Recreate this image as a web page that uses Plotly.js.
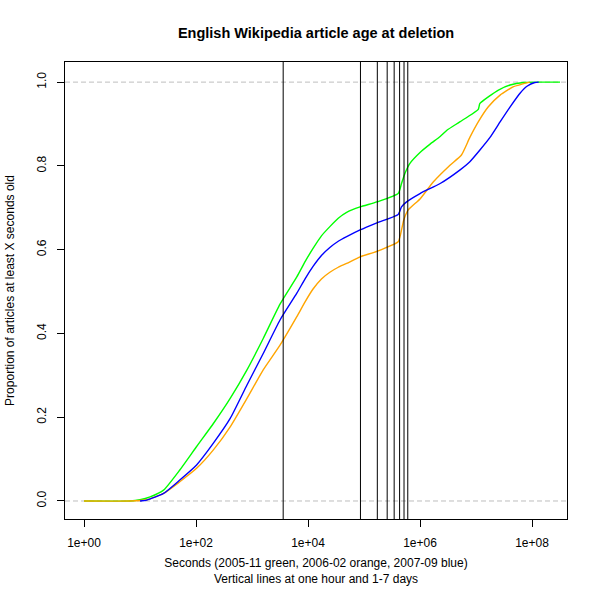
<!DOCTYPE html>
<html>
<head>
<meta charset="utf-8">
<script src="https://cdn.plot.ly/plotly-3.0.1.min.js"></script>
<style>html,body{margin:0;padding:0;background:#fff;}#chart{width:600px;height:600px;}</style>
</head>
<body>
<div id="chart"></div>
<script>
// log10(seconds) and proportion values
const greenLog = [0,0.82,1.0,1.18,1.42,1.71,2.01,2.31,2.61,2.91,3.20,3.50,3.80,3.95,4.09,4.24,4.39,4.54,4.69,4.93,5.23,5.61,5.67,5.73,5.82,6.0,6.18,6.36,6.48,6.71,7.04,7.07,7.40,7.61,7.85,8.1,8.5];
const greenVal = [0,0,0.003,0.010,0.026,0.074,0.130,0.185,0.245,0.313,0.388,0.470,0.535,0.572,0.603,0.633,0.655,0.675,0.689,0.702,0.714,0.734,0.758,0.782,0.806,0.832,0.852,0.870,0.885,0.905,0.935,0.949,0.981,0.993,0.999,1.0,1.0];

const orangeLog = [0,0.82,1.12,1.42,1.71,2.01,2.31,2.61,2.91,3.20,3.50,3.80,3.95,4.09,4.24,4.39,4.54,4.69,4.93,5.23,5.61,5.65,5.71,5.79,6.0,6.24,6.54,6.74,6.89,7.04,7.22,7.43,7.67,7.96];
const orangeVal = [0,0,0.003,0.018,0.046,0.078,0.122,0.177,0.245,0.313,0.372,0.440,0.476,0.506,0.530,0.546,0.558,0.567,0.583,0.596,0.619,0.635,0.671,0.695,0.721,0.762,0.802,0.826,0.868,0.905,0.941,0.969,0.989,1.0];

const blueLog = [1.0,1.12,1.42,1.71,2.01,2.31,2.61,2.91,3.20,3.50,3.80,3.95,4.09,4.24,4.39,4.54,4.69,4.93,5.23,5.61,5.67,5.76,6.0,6.36,6.71,6.89,7.07,7.25,7.43,7.61,7.79,7.91,8.05,8.12];
const blueVal = [0,0.002,0.018,0.050,0.086,0.138,0.197,0.277,0.352,0.432,0.496,0.531,0.560,0.586,0.605,0.620,0.631,0.647,0.664,0.684,0.702,0.714,0.734,0.758,0.790,0.810,0.838,0.868,0.905,0.941,0.974,0.990,0.999,1.0];

// reference lines: one hour and 1-7 days (seconds), horizontal at 0 and 1
const vLines = [3600, 86400, 172800, 259200, 345600, 432000, 518400, 604800];
const hLines = [0, 1];

const xTickVals = [1, 100, 10000, 1000000, 100000000];
const xTickText = ['1e+00', '1e+02', '1e+04', '1e+06', '1e+08'];
const yTickVals = [0, 0.2, 0.4, 0.6, 0.8, 1.0];
const yTickText = ['0.0', '0.2', '0.4', '0.6', '0.8', '1.0'];

const toSec = a => a.map(v => Math.pow(10, v));
const mk = (lx, v, c) => ({x: toSec(lx), y: v, type: 'scatter', mode: 'lines',
  line: {color: c, width: 1.4, shape: 'spline', smoothing: 0.5}, hoverinfo: 'skip', showlegend: false});

const traces = [
  mk(greenLog, greenVal, '#00FF00'),
  mk(orangeLog, orangeVal, '#FFA500'),
  mk(blueLog, blueVal, '#0000FF')
];

const shapes = [];
hLines.forEach(h => shapes.push({type: 'line', xref: 'paper', yref: 'y', x0: 0, x1: 1, y0: h, y1: h,
  line: {color: '#bebebe', width: 1, dash: '5px,3px'}, layer: 'below'}));
vLines.forEach(v => shapes.push({type: 'line', xref: 'x', yref: 'paper', x0: v, x1: v, y0: 0, y1: 1,
  line: {color: '#000000', width: 1}}));

const font = {family: '"Liberation Sans", Arial, Helvetica, sans-serif', size: 12, color: '#000'};

const layout = {
  width: 600, height: 600,
  margin: {l: 65, r: 33, t: 62, b: 81, pad: 0},
  paper_bgcolor: '#fff', plot_bgcolor: '#fff',
  font: font,
  showlegend: false,
  title: {text: '<b>English Wikipedia article age at deletion</b>', x: 0.5, xref: 'paper',
    y: 1 - 33/600, yref: 'container', yanchor: 'middle',
    font: {family: font.family, size: 14.5, color: '#000'}},
  xaxis: {type: 'log', range: [-0.34, 8.625], showgrid: false, zeroline: false,
    showline: true, linecolor: '#000', linewidth: 1, mirror: true,
    ticks: 'outside', ticklen: 7, tickcolor: '#000', tickwidth: 1,
    tickvals: xTickVals, ticktext: xTickText, ticklabelstandoff: 6,
    tickfont: font,
    title: {text: 'Seconds (2005-11 green, 2006-02 orange, 2007-09 blue)<br>Vertical lines at one hour and 1-7 days',
      font: font, standoff: 9}},
  yaxis: {range: [-0.043, 1.048], showgrid: false, zeroline: false,
    showline: true, linecolor: '#000', linewidth: 1, mirror: true,
    ticks: 'outside', ticklen: 7, tickcolor: '#000', tickwidth: 1,
    tickvals: yTickVals, ticktext: yTickText, tickangle: -90, ticklabelstandoff: 6,
    tickfont: font,
    title: {text: 'Proportion of articles at least X seconds old', font: font, standoff: 18}},
  shapes: shapes
};

Plotly.newPlot('chart', traces, layout, {displayModeBar: false, staticPlot: true});
</script>
</body>
</html>
